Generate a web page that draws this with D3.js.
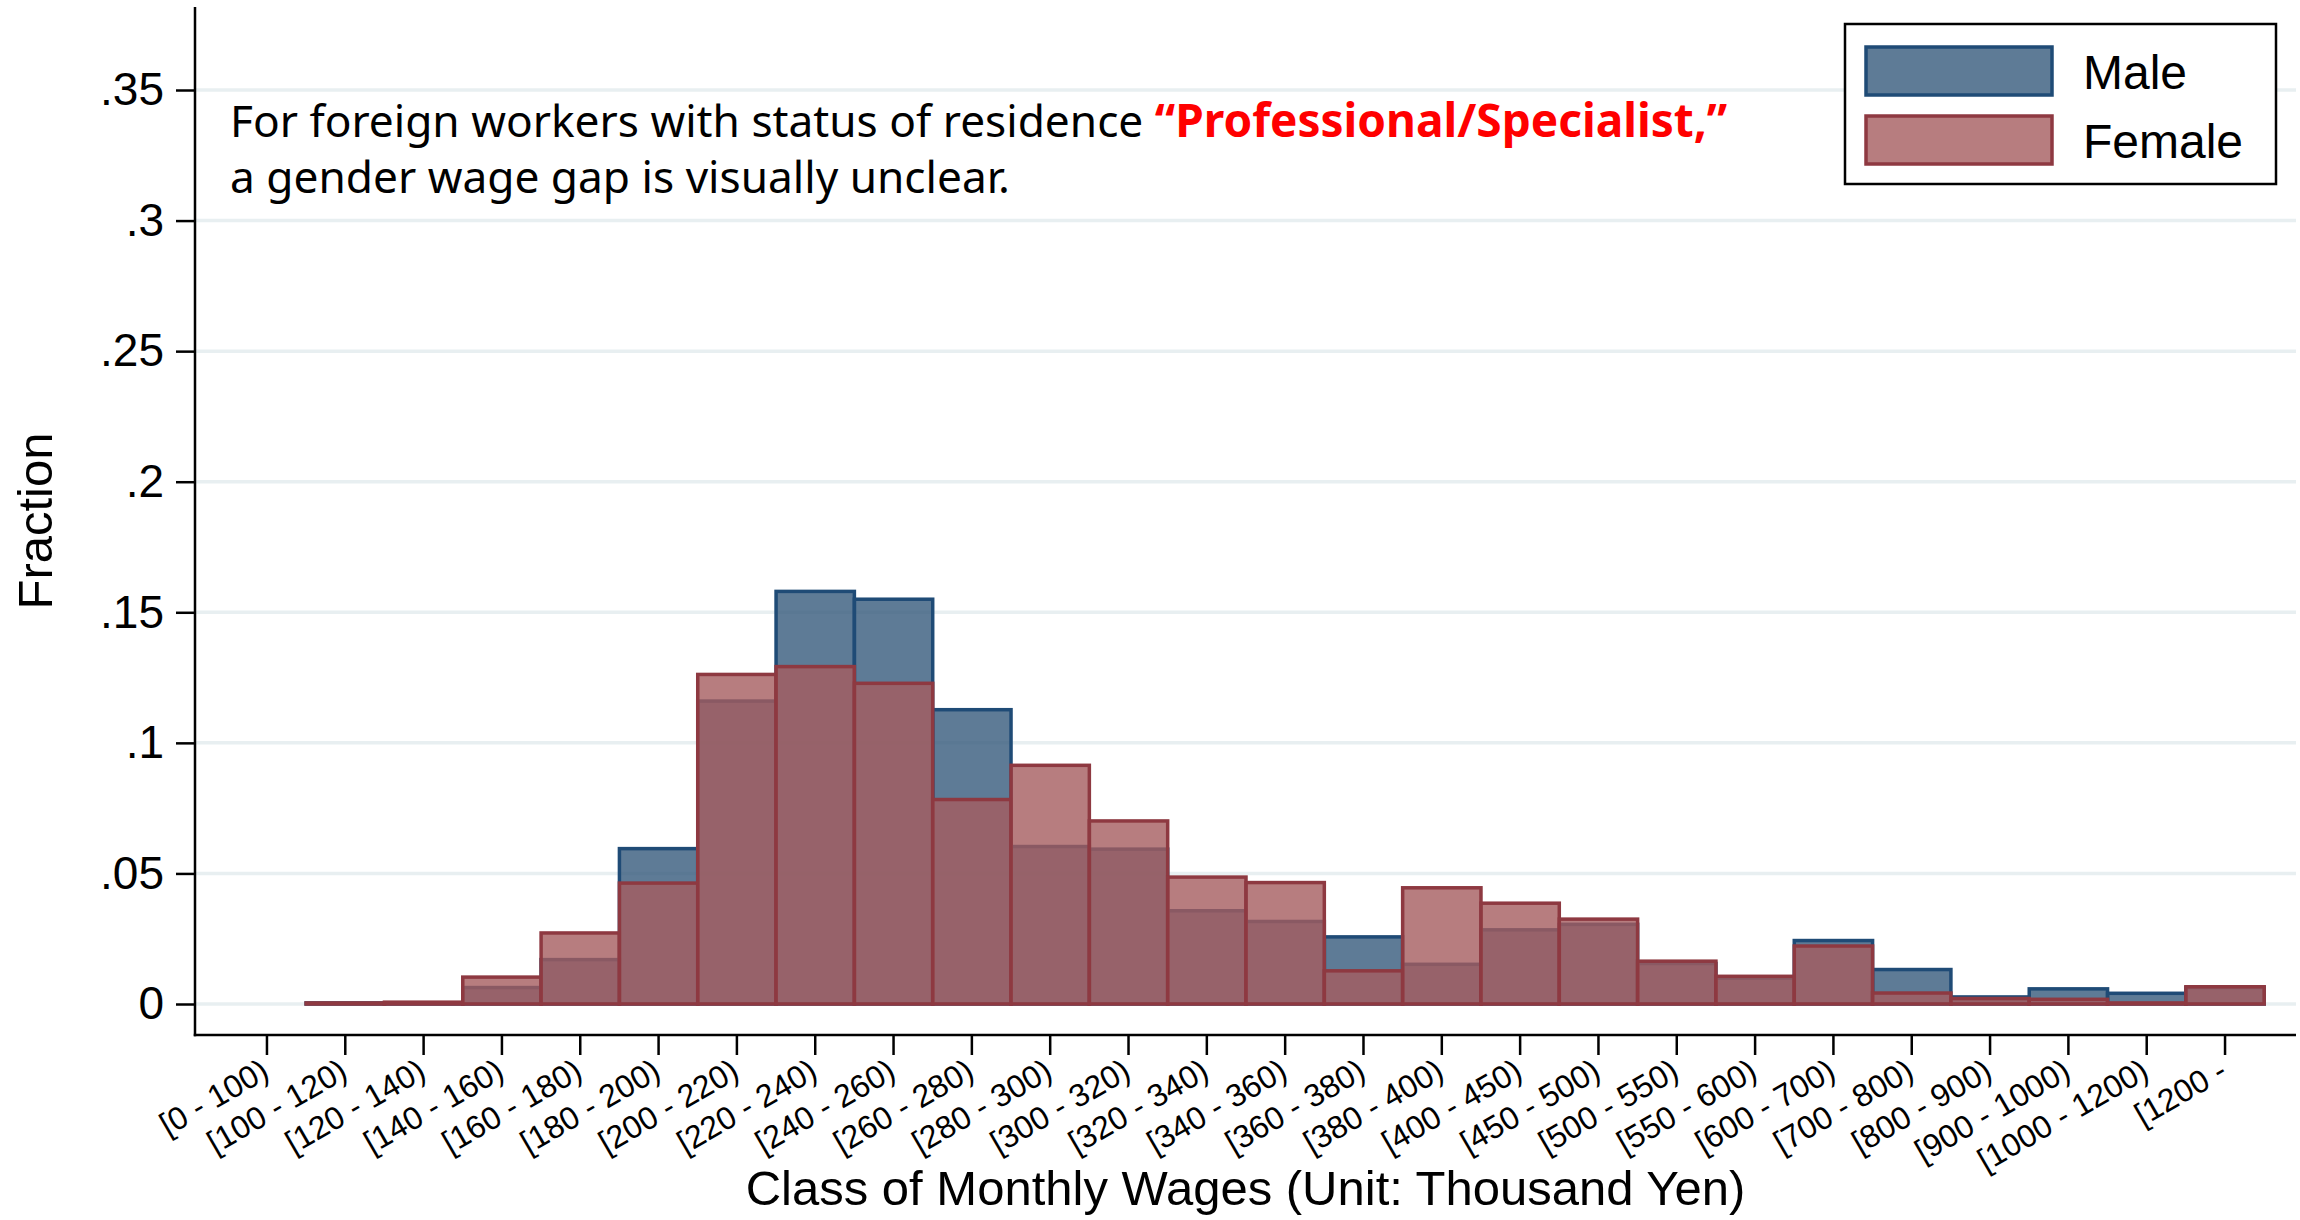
<!DOCTYPE html>
<html>
<head>
<meta charset="utf-8">
<script src="https://cdn.jsdelivr.net/npm/d3@7"></script>
<style>
body{margin:0;background:#fff;}
svg{display:block;}
</style>
</head>
<body>
<script>
// Data (fraction of workers per wage class)
var categories = ["[0 - 100)", "[100 - 120)", "[120 - 140)", "[140 - 160)", "[160 - 180)",
    "[180 - 200)", "[200 - 220)", "[220 - 240)", "[240 - 260)", "[260 - 280)", "[280 - 300)",
    "[300 - 320)", "[320 - 340)", "[340 - 360)", "[360 - 380)", "[380 - 400)", "[400 - 450)",
    "[450 - 500)", "[500 - 550)", "[550 - 600)", "[600 - 700)", "[700 - 800)", "[800 - 900)",
    "[900 - 1000)", "[1000 - 1200)", "[1200 -"];
var male = [0, 0.0004, 0.0001, 0.0063, 0.0170, 0.0595, 0.1160, 0.1580, 0.1550, 0.1127, 0.0603,
    0.0593, 0.0357, 0.0316, 0.0257, 0.0152, 0.0284, 0.0305, 0.0155, 0.0099, 0.0243, 0.0132,
    0.0027, 0.0058, 0.0041, 0.0063];
var female = [0, 0.0004, 0.0007, 0.0103, 0.0272, 0.0463, 0.1262, 0.1292, 0.1228, 0.0783, 0.0914,
    0.0701, 0.0486, 0.0465, 0.0127, 0.0445, 0.0386, 0.0325, 0.0164, 0.0106, 0.0222, 0.0042,
    0.0021, 0.0018, 0.0004, 0.0066];
var yTicks = [0, 0.05, 0.1, 0.15, 0.2, 0.25, 0.3, 0.35];
var yTickLabels = ["0", ".05", ".1", ".15", ".2", ".25", ".3", ".35"];
var seriesNames = ["Male", "Female"];

//Size Globals:
var svgWidth = 2300, svgHeight = 1220;
var plotLeft = 195, plotRight = 2296, plotTop = 7, xAxisY = 1035;
var axisFont = "'Liberation Sans', Arial, sans-serif";
var noteFont = "'Noto Sans', 'Open Sans', sans-serif";

var styles = {
    Male: {fill: "#365a7c", stroke: "#1f4b76"},
    Female: {fill: "#a55d5f", stroke: "#8e3941"}
};

var svg = d3.select('body').append('svg')
    .attr('width', svgWidth)
    .attr('height', svgHeight);

var x = d3.scaleBand().domain(categories).range([227.8, 2264.2]).padding(0);
var y = d3.scaleLinear().domain([0, 0.35]).range([1004, 90]);

//gridlines
svg.append('g').selectAll('line').data(yTicks).enter().append('line')
    .attr('x1', plotLeft).attr('x2', plotRight)
    .attr('y1', function(d){ return y(d); })
    .attr('y2', function(d){ return y(d); })
    .attr('stroke', '#e8eff1')
    .attr('stroke-width', 3.5);

//bars: male first, female drawn over it
function drawBars(vals, name){
    var rows = vals.map(function(v, i){ return {c: categories[i], v: v}; })
        .filter(function(d){ return d.v > 0; });
    svg.append('g').attr('class', 'bars-' + name)
        .selectAll('rect').data(rows).enter().append('rect')
        .attr('x', function(d){ return x(d.c); })
        .attr('width', x.bandwidth())
        .attr('y', function(d){ return y(d.v); })
        .attr('height', function(d){ return y(0) - y(d.v); })
        .attr('fill', styles[name].fill)
        .attr('fill-opacity', 0.8)
        .attr('stroke', styles[name].stroke)
        .attr('stroke-width', 3.5);
}
drawBars(male, "Male");
drawBars(female, "Female");

//y axis
var yAxis = d3.axisLeft(y)
    .tickValues(yTicks)
    .tickFormat(function(d, i){ return yTickLabels[i]; })
    .tickSize(19)
    .tickPadding(12);
var gy = svg.append('g').attr('transform', 'translate(' + plotLeft + ',0)').call(yAxis);
gy.select('.domain').remove();
gy.selectAll('.tick line').attr('stroke', '#000').attr('stroke-width', 2.5);
gy.selectAll('.tick text')
    .attr('font-family', axisFont)
    .attr('font-size', 46)
    .attr('fill', '#000');

//x axis
var xAxis = d3.axisBottom(x).tickSize(20);
var gx = svg.append('g').attr('transform', 'translate(0,' + xAxisY + ')').call(xAxis);
gx.select('.domain').remove();
gx.selectAll('.tick line').attr('stroke', '#000').attr('stroke-width', 2.5);
gx.selectAll('.tick text')
    .attr('y', 0).attr('dy', 0)
    .attr('text-anchor', 'end')
    .attr('transform', 'translate(4,42) rotate(-30)')
    .attr('font-family', axisFont)
    .attr('font-size', 32)
    .attr('fill', '#000');

//axis lines
svg.append('line')
    .attr('x1', plotLeft).attr('x2', plotLeft)
    .attr('y1', plotTop).attr('y2', xAxisY + 1.25)
    .attr('stroke', '#000').attr('stroke-width', 2.5);
svg.append('line')
    .attr('x1', plotLeft - 1.25).attr('x2', plotRight)
    .attr('y1', xAxisY).attr('y2', xAxisY)
    .attr('stroke', '#000').attr('stroke-width', 2.5);

//axis titles
svg.append('text')
    .attr('transform', 'translate(52,521) rotate(-90)')
    .attr('text-anchor', 'middle')
    .attr('font-family', axisFont)
    .attr('font-size', 49)
    .text('Fraction');
svg.append('text')
    .attr('x', (plotLeft + plotRight) / 2)
    .attr('y', 1205)
    .attr('text-anchor', 'middle')
    .attr('font-family', axisFont)
    .attr('font-size', 49)
    .text('Class of Monthly Wages (Unit: Thousand Yen)');

//legend
var legend = svg.append('g').attr('id', 'legend');
legend.append('rect')
    .attr('x', 1845).attr('y', 24).attr('width', 431).attr('height', 160)
    .attr('fill', '#fff').attr('stroke', '#000').attr('stroke-width', 2.5);
var items = legend.selectAll('g.item').data(seriesNames).enter().append('g')
    .attr('class', 'item')
    .attr('transform', function(d, i){ return 'translate(0,' + (i * 69) + ')'; });
items.append('rect')
    .attr('x', 1866).attr('y', 47).attr('width', 186).attr('height', 48)
    .attr('fill', function(d){ return styles[d].fill; })
    .attr('fill-opacity', 0.8)
    .attr('stroke', function(d){ return styles[d].stroke; })
    .attr('stroke-width', 3.5);
items.append('text')
    .attr('x', 2083).attr('y', 89)
    .attr('font-family', axisFont)
    .attr('font-size', 48)
    .text(function(d){ return d; });

//annotation
var note = svg.append('text')
    .attr('font-family', noteFont)
    .attr('font-size', 44)
    .attr('fill', '#000');
var line1 = note.append('tspan').attr('x', 230).attr('y', 137)
    .text('For foreign workers with status of residence ');
var red = note.append('tspan')
    .attr('fill', '#ff0000').attr('font-weight', 'bold')
    .text('\u201CProfessional/Specialist,\u201D');
var line2 = note.append('tspan').attr('x', 230).attr('y', 193)
    .text('a gender wage gap is visually unclear.');
// fit the size so the first line spans what the figure shows
var w1 = line1.node().getComputedTextLength();
var noteSize = 44 * 925 / w1;
note.attr('font-size', noteSize);
red.attr('font-size', noteSize * 1.04);
</script>
</body>
</html>
